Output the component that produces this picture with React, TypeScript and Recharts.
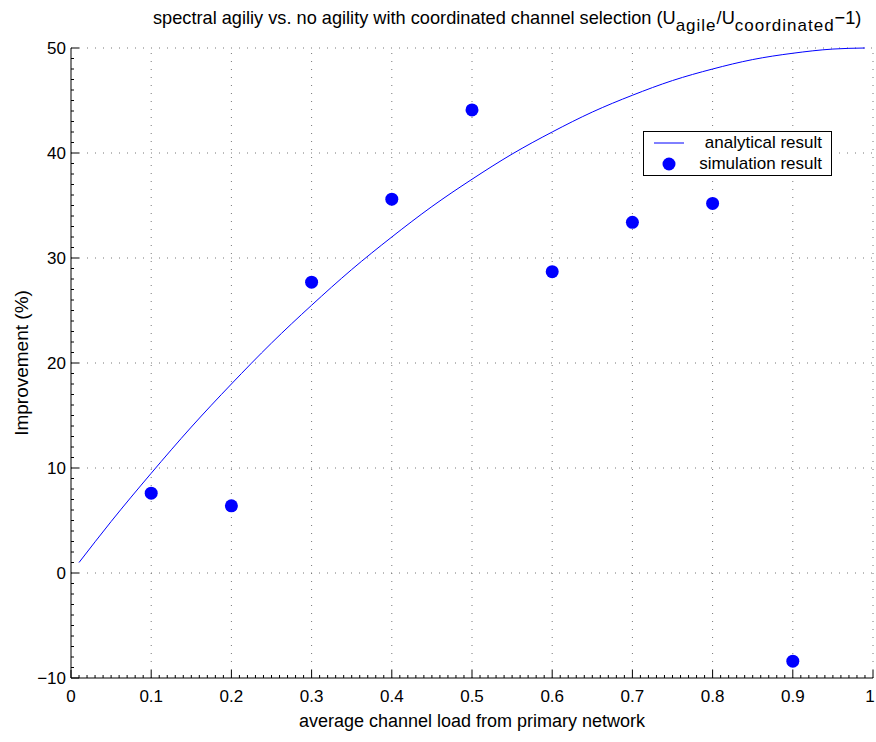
import { ReferenceLine, Scatter, ScatterChart, XAxis, YAxis } from 'recharts';

const loadTicks = [0, 0.1, 0.2, 0.3, 0.4, 0.5, 0.6, 0.7, 0.8, 0.9, 1];
const improvementTicks = [-10, 0, 10, 20, 30, 40, 50];

// analytical curve
const analytical = [
  { load: 0.01, value: 1.0 },
  { load: 0.05, value: 4.9 },
  { load: 0.1, value: 9.5 },
  { load: 0.15, value: 13.9 },
  { load: 0.2, value: 18.0 },
  { load: 0.25, value: 21.9 },
  { load: 0.3, value: 25.5 },
  { load: 0.35, value: 28.9 },
  { load: 0.4, value: 32.0 },
  { load: 0.45, value: 34.9 },
  { load: 0.5, value: 37.5 },
  { load: 0.55, value: 39.9 },
  { load: 0.6, value: 42.0 },
  { load: 0.65, value: 43.9 },
  { load: 0.7, value: 45.5 },
  { load: 0.75, value: 46.9 },
  { load: 0.8, value: 48.0 },
  { load: 0.85, value: 48.9 },
  { load: 0.9, value: 49.5 },
  { load: 0.95, value: 49.9 },
  { load: 0.99, value: 50.0 },
];

const simulation = [
  { load: 0.1, value: 7.6 },
  { load: 0.2, value: 6.4 },
  { load: 0.3, value: 27.7 },
  { load: 0.4, value: 35.6 },
  { load: 0.5, value: 44.1 },
  { load: 0.6, value: 28.7 },
  { load: 0.7, value: 33.4 },
  { load: 0.8, value: 35.2 },
  { load: 0.9, value: -8.4 },
];

// minor tick positions (every 0.01 on x, every 1 on y)
const xMinor = Array.from({ length: 101 }, (_, i) => i / 100);
const yMinor = Array.from({ length: 61 }, (_, i) => i - 10);

const BLUE = '#0000ff';
const FONT = '"Liberation Sans", Arial, sans-serif';
const isMajor = (v: number, step: number) => Math.abs(v / step - Math.round(v / step)) < 1e-6;

function XTick({ x, y, payload }: any) {
  const v = payload.value;
  const major = isMajor(v, 0.1);
  return (
    <g>
      <line x1={x} x2={x} y1={y} y2={y - (major ? 8 : 3)} stroke="#000" />
      {major && (
        <text
          x={v === 1 ? x - 3 : x}
          y={y + 24}
          textAnchor="middle"
          fontSize={17}
          fontFamily={FONT}
          fill="#000"
        >
          {String(+v.toFixed(1))}
        </text>
      )}
    </g>
  );
}

function YTick({ x, y, payload }: any) {
  const v = payload.value;
  const major = isMajor(v, 10);
  return (
    <g>
      <line x1={x} x2={x + (major ? 8 : 3)} y1={y} y2={y} stroke="#000" />
      {major && (
        <text x={x - 5} y={y + 6} textAnchor="end" fontSize={17} fontFamily={FONT} fill="#000">
          {v < 0 ? `\u2212${-v}` : v}
        </text>
      )}
    </g>
  );
}

function LegendBox() {
  return (
    <div
      style={{
        position: 'absolute',
        left: 643,
        top: 131,
        border: '1px solid #000',
        background: '#fff',
        width: 189,
        height: 45,
        fontFamily: FONT,
        fontSize: 17,
        boxSizing: 'border-box',
      }}
    >
      <svg width={40} height={43} style={{ position: 'absolute', left: 0, top: 0 }}>
        <line x1={10} x2={40} y1={11} y2={11} stroke={BLUE} />
        <circle cx={25} cy={32} r={6.5} fill={BLUE} />
      </svg>
      <div style={{ position: 'absolute', right: 9, top: 1, lineHeight: '20px' }}>analytical result</div>
      <div style={{ position: 'absolute', right: 9, top: 22, lineHeight: '20px' }}>simulation result</div>
    </div>
  );
}

export default function App() {
  const sub = { fontSize: 17, verticalAlign: '-7px', lineHeight: 0, letterSpacing: 1 };
  return (
    <div style={{ position: 'absolute', left: 0, top: 0, width: 876, height: 742, background: '#fff' }}>
      <ScatterChart width={876} height={742} margin={{ top: 48, right: 3, bottom: 0, left: 0 }}>
        <XAxis
          type="number"
          dataKey="load"
          domain={[0, 1]}
          ticks={xMinor}
          interval={0}
          height={64}
          tickSize={0}
          tickMargin={0}
          tick={<XTick />}
          axisLine={{ stroke: '#000' }}
          tickLine={false}
        />
        <YAxis
          type="number"
          dataKey="value"
          domain={[-10, 50]}
          ticks={yMinor}
          interval={0}
          width={71}
          tickSize={0}
          tickMargin={0}
          tick={<YTick />}
          axisLine={{ stroke: '#000' }}
          tickLine={false}
        />
        {loadTicks.slice(1).map((t) => (
          <ReferenceLine key={`x${t}`} x={t} stroke="#777" strokeDasharray="1 7" />
        ))}
        {improvementTicks.slice(1).map((t) => (
          <ReferenceLine key={`y${t}`} y={t} stroke="#777" strokeDasharray="1 7" />
        ))}
        <Scatter
          name="analytical result"
          data={analytical}
          line={{ stroke: BLUE, strokeWidth: 1 }}
          lineJointType="monotoneX"
          shape={() => <g />}
          isAnimationActive={false}
        />
        <Scatter
          name="simulation result"
          data={simulation}
          shape={(p: any) => <circle cx={p.cx} cy={p.cy} r={6.5} fill={BLUE} />}
          isAnimationActive={false}
        />
      </ScatterChart>
      <LegendBox />
      <div
        style={{
          position: 'absolute',
          left: 153,
          top: 6,
          fontFamily: FONT,
          fontSize: 18.2,
          lineHeight: '24px',
          whiteSpace: 'nowrap',
          color: '#000',
        }}
      >
        spectral agiliy vs. no agility with coordinated channel selection (U<span style={sub}>agile</span>/U
        <span style={sub}>coordinated</span>&minus;1)
      </div>
      <div
        style={{
          position: 'absolute',
          left: 472,
          top: 711,
          transform: 'translateX(-50%)',
          fontFamily: FONT,
          fontSize: 18,
          whiteSpace: 'nowrap',
        }}
      >
        average channel load from primary network
      </div>
      <div
        style={{
          position: 'absolute',
          left: 22,
          top: 363,
          transform: 'translate(-50%, -50%) rotate(-90deg)',
          fontFamily: FONT,
          fontSize: 19,
          whiteSpace: 'nowrap',
        }}
      >
        Improvement (%)
      </div>
    </div>
  );
}
